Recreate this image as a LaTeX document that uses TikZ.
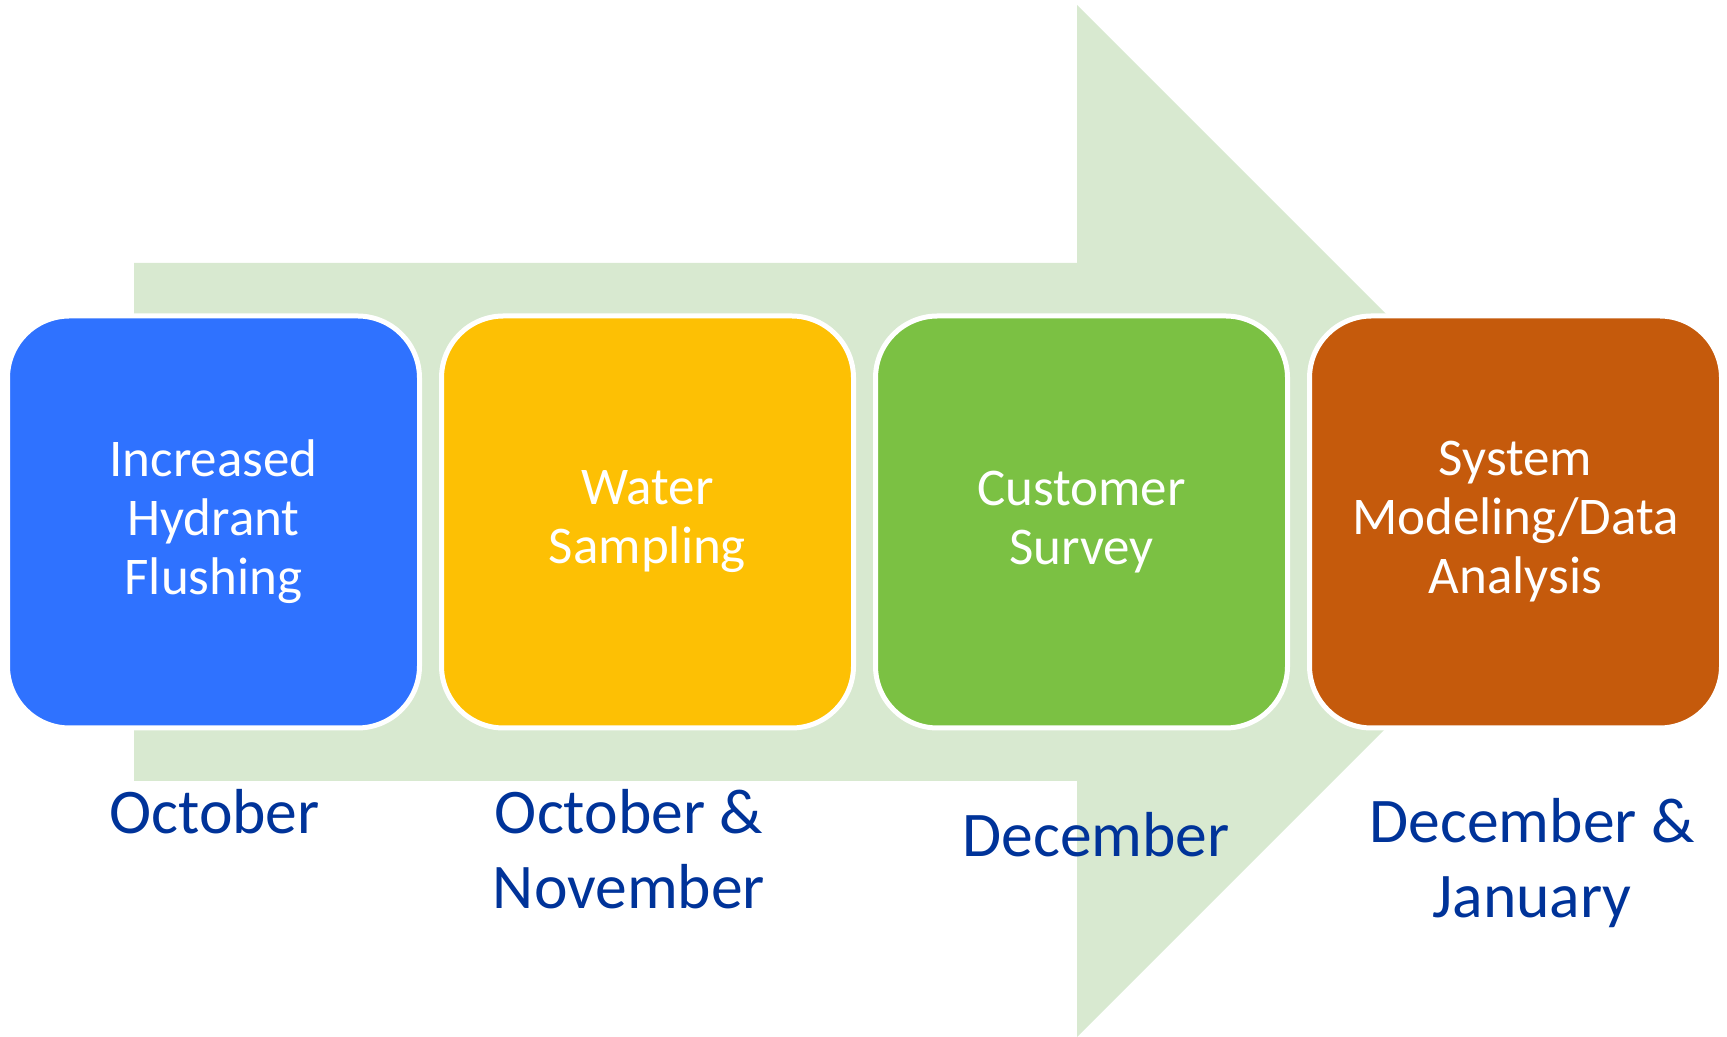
\documentclass[tikz,border=0pt]{standalone}
\usepackage{fontspec}
\setmainfont{Carlito}

\definecolor{arrowgreen}{HTML}{D8E9D0}
\definecolor{boxblue}{HTML}{2F72FF}
\definecolor{boxyellow}{HTML}{FDC004}
\definecolor{boxgreen}{HTML}{7BC143}
\definecolor{boxorange}{HTML}{C55A0C}
\definecolor{monthblue}{HTML}{003399}

\begin{document}
\begin{tikzpicture}[
  stage/.style={rounded corners=31pt, draw=white, line width=2.5pt,
    minimum width=206pt, minimum height=206pt, align=center, text=white,
    font=\fontsize{26.5}{29.5}\selectfont},
  month/.style={align=center, text=monthblue, anchor=base,
    font=\fontsize{31.8}{37.5}\selectfont}]

  \newcommand\X{217pt};
  \newcommand\Y{257.5pt};

  \useasboundingbox (0pt,0pt) rectangle (863.5pt,518.5pt);

  %% big arrow behind the stages
  \fill[arrowgreen] (67pt,128pt) -- (67pt,387pt) -- (538.5pt,387pt)
    -- (538.5pt,516pt) -- (796.5pt,258pt) -- (538.5pt,0pt)
    -- (538.5pt,128pt) -- cycle;

  %% stages
  \node[stage, fill=boxblue] (flush) at (106.75pt+0*\X,\Y)
    {Increased\\Hydrant\\Flushing};
  \node[stage, fill=boxyellow] (sample) at (106.75pt+1*\X,\Y)
    {Water\\Sampling};
  \node[stage, fill=boxgreen] (survey) at (106.75pt+2*\X,\Y)
    {Customer\\Survey};
  \node[stage, fill=boxorange] (model) at (106.75pt+3*\X,\Y)
    {System\\Modeling/Data\\Analysis};

  %% months (base = last line)
  \node[month] (oct) at (107.25pt,101.5pt) {October};
  \node[month] (octnov) at (314.5pt,64pt) {October \&\\November};
  \node[month] (dec) at (548pt,90pt) {December};
  \node[month] (decjan) at (766pt,59.5pt) {December \&\\January};

\end{tikzpicture}
\end{document}
